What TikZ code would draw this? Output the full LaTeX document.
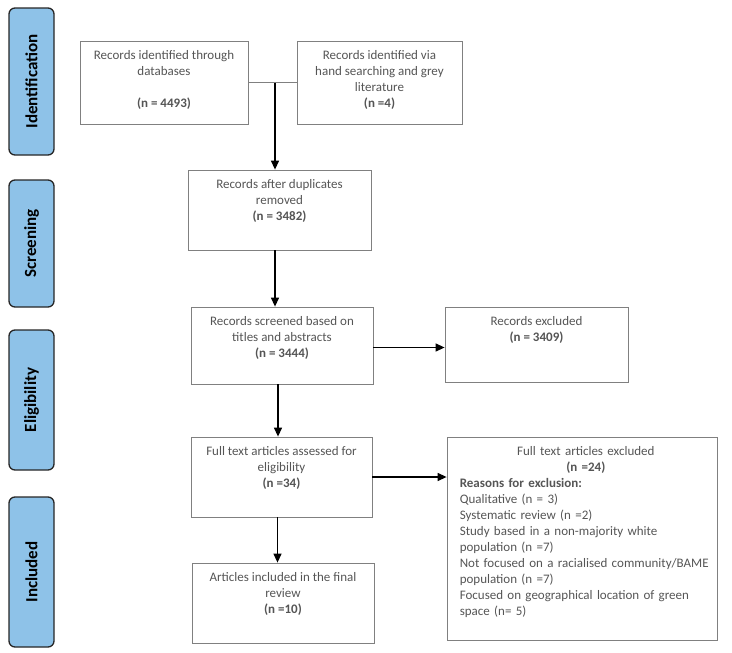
\documentclass[tikz,border=0pt]{standalone}
\usepackage{fontspec}
\setmainfont{Carlito}
\usetikzlibrary{arrows.meta}
\definecolor{phaseblue}{HTML}{8EC2E8}
\definecolor{boxline}{HTML}{808080}
\definecolor{boxtext}{HTML}{555555}

\begin{document}
\begin{tikzpicture}[x=1pt,y=-1pt,
  phase/.style={draw=black!85,line width=1.3pt,fill=phaseblue,rounded corners=6pt,
    rotate=90,minimum height=45pt,font=\fontsize{17}{20}\selectfont\bfseries},
  box/.style={draw=boxline,line width=0.8pt,inner sep=0pt},
  txt/.style={anchor=north,inner sep=0pt,align=center,text=boxtext,
    font=\fontsize{13}{16}\selectfont},
  arr/.style={line width=1.3pt,-{Triangle[width=8pt,length=9pt]}}]
\useasboundingbox (0,0) rectangle (732,653);

% Phasen links
\node[phase,minimum width=147pt] (ident) at (31.5,81.5) {Identification};
\node[phase,minimum width=127pt] (screen) at (31.5,243.5) {Screening};
\node[phase,minimum width=140pt] (elig) at (31.5,400) {Eligibility};
\node[phase,minimum width=150pt] (inclp) at (31.5,572) {Included};

% Identification
\node[box,minimum width=168pt,minimum height=83pt] (db) at (164,82.5) {};
\node[txt] (dbtxt) at ([yshift=-10pt]db.north)
  {Records identified through\\databases\\[16pt]\textbf{(n = 4493)}};
\node[box,minimum width=165pt,minimum height=83pt] (hand) at (379.5,82.5) {};
\node[txt] (handtxt) at ([yshift=-10pt]hand.north)
  {Records identified via\\hand searching and grey\\literature\\\textbf{(n =4)}};
\draw[boxline,line width=0.8pt] (db.east) -- (hand.west);
\coordinate (junc) at (275,82.5);

% Screening
\node[box,minimum width=183pt,minimum height=80pt] (dup) at (279.5,210) {};
\node[txt] (duptxt) at ([yshift=-10pt]dup.north)
  {Records after duplicates\\removed\\\textbf{(n = 3482)}};
\draw[arr] (junc) -- (junc |- dup.north);

% Eligibility
\node[box,minimum width=182pt,minimum height=77pt] (scr) at (282,345.5) {};
\node[txt] (scrtxt) at ([yshift=-10pt]scr.north)
  {Records screened based on\\titles and abstracts\\\textbf{(n = 3444)}};
\draw[arr] (junc |- dup.south) -- (junc |- scr.north);

\node[box,minimum width=183pt,minimum height=75pt] (excl) at (536.5,344.5) {};
\node[txt] (excltxt) at ([yshift=-10pt]excl.north)
  {Records excluded\\\textbf{(n = 3409)}};
\draw[arr] ([yshift=-2pt]scr.east) -- ([yshift=-2pt]scr.east -| excl.west);

\node[box,minimum width=181pt,minimum height=80pt] (full) at (281.5,477) {};
\node[txt] (fulltxt) at ([yshift=-10pt]full.north)
  {Full text articles assessed for\\eligibility\\\textbf{(n =34)}};
\draw[arr] ([xshift=-4pt]scr.south) -- ([xshift=-4pt]scr.south |- full.north);

\node[box,minimum width=270pt,minimum height=203pt] (excl2) at (582,538.5) {};
\node[txt,anchor=north west,align=left,text width=252pt] (excl2txt)
  at ([xshift=13pt,yshift=-10pt]excl2.north west)
  {{\centering Full text articles excluded\\\textbf{(n =24)}\par}
   \textbf{Reasons for exclusion:}\\
   Qualitative (n = 3)\\
   Systematic review (n =2)\\
   Study based in a non-majority white\\
   population (n =7)\\
   Not focused on a racialised community/BAME\\
   population (n =7)\\
   Focused on geographical location of green\\
   space (n= 5)};
\draw[arr] (full.east) -- (full.east -| excl2.west);

% Included
\node[box,minimum width=182pt,minimum height=80pt] (incl) at (283,603) {};
\node[txt] (incltxt) at ([yshift=-10pt]incl.north)
  {Articles included in the final\\review\\\textbf{(n =10)}};
\draw[arr] ([xshift=-4pt]full.south) -- ([xshift=-4pt]full.south |- incl.north);
\end{tikzpicture}
\end{document}
